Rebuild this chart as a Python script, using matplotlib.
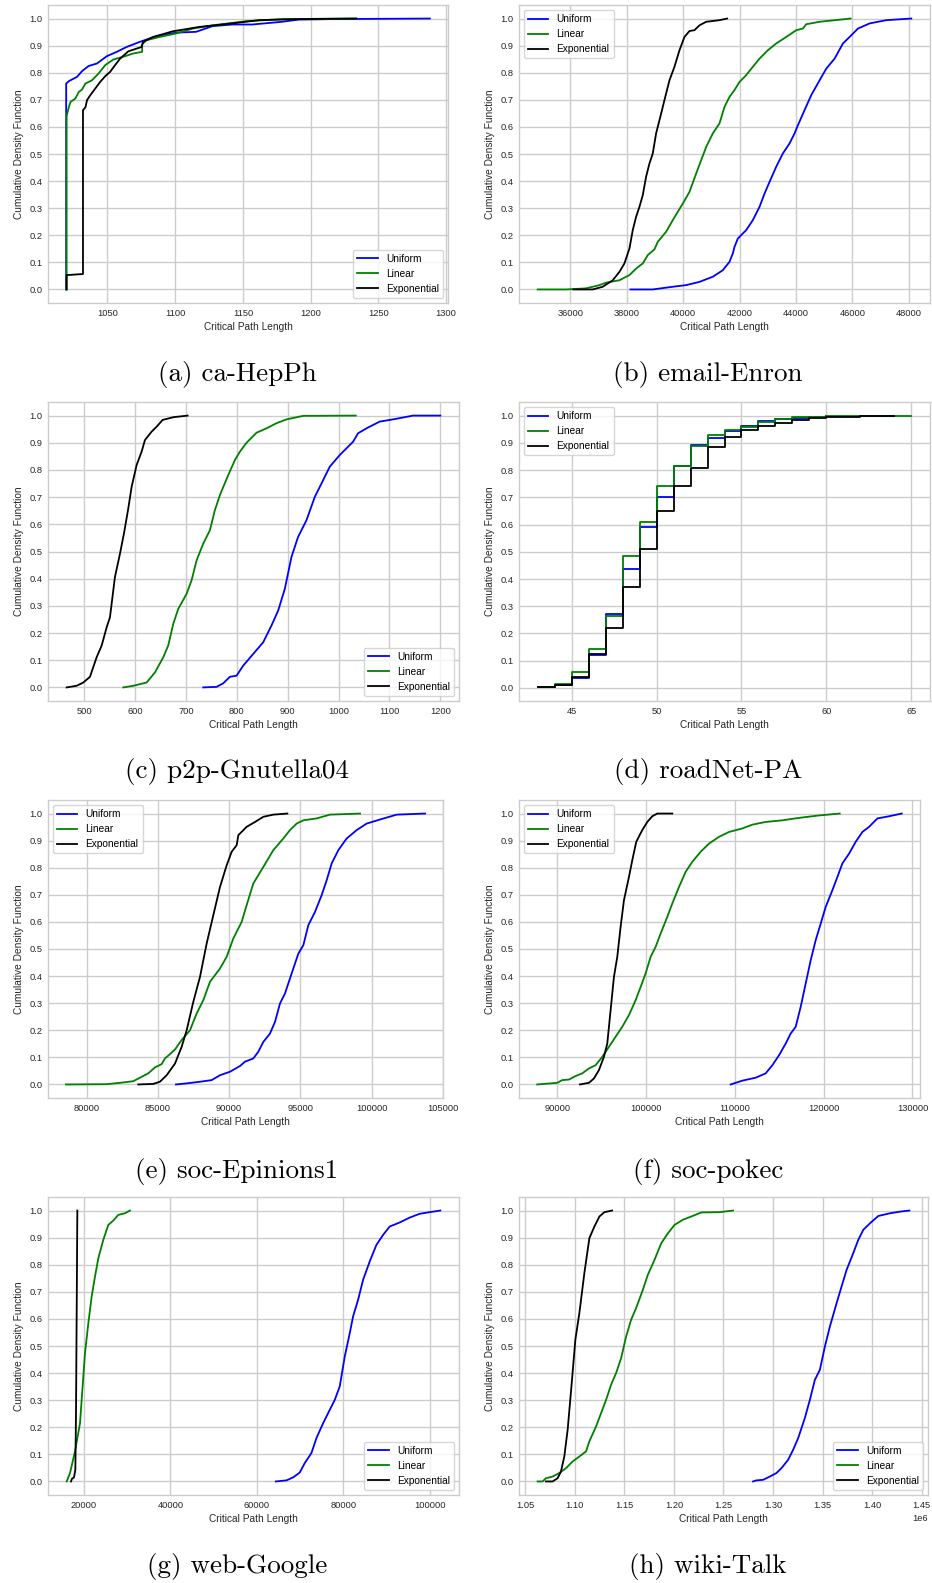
import numpy as np
import matplotlib
matplotlib.use("Agg")
import matplotlib.pyplot as plt
from matplotlib.ticker import MultipleLocator

# --- (a) ca-HepPh ---
hepph_uniform_x = [1019.5, 1019.5, 1021.5, 1027.6, 1031.2, 1036.1, 1042.2, 1049.5, 1056.8, 1064.1,
                   1073.9, 1086.1, 1100.7, 1115.4, 1127.6, 1142.2, 1156.8, 1178.8, 1191.0, 1215.4, 1288.0]
hepph_uniform_y = [0.0, 0.760, 0.769, 0.785, 0.806, 0.825, 0.834, 0.861, 0.877, 0.895,
                   0.914, 0.935, 0.948, 0.951, 0.972, 0.978, 0.978, 0.988, 0.996, 0.998, 1.0]
hepph_linear_x = [1019.8, 1019.8, 1021.5, 1022.7, 1026.3, 1028.8, 1031.2, 1033.7, 1038.5, 1043.4,
                  1048.3, 1054.4, 1061.7, 1069.0, 1075.6, 1075.6, 1078.8, 1088.5, 1100.7, 1112.9,
                  1127.6, 1152.0, 1178.8, 1233.7]
hepph_linear_y = [0.0, 0.640, 0.674, 0.692, 0.705, 0.729, 0.738, 0.760, 0.772, 0.797,
                  0.828, 0.849, 0.859, 0.871, 0.877, 0.905, 0.920, 0.932, 0.945, 0.963,
                  0.975, 0.990, 0.998, 1.0]
hepph_exp_x = [1019.8, 1019.8, 1031.9, 1031.9, 1033.7, 1034.9, 1037.3, 1041.0, 1044.6, 1048.3,
               1051.9, 1055.6, 1059.3, 1065.4, 1075.1, 1076.3, 1083.7, 1098.3, 1117.8, 1142.2,
               1161.7, 1191.0, 1233.7]
hepph_exp_y = [0.0, 0.053, 0.057, 0.662, 0.672, 0.699, 0.717, 0.742, 0.766, 0.787,
               0.803, 0.828, 0.852, 0.879, 0.895, 0.914, 0.932, 0.953, 0.969, 0.982,
               0.994, 0.998, 1.0]

# --- (b) email-Enron ---
enron_uniform_x = [38130, 38923, 39633, 40107, 40580, 41053, 41408, 41645, 41763, 41822,
                   41941, 42237, 42473, 42710, 42888, 43065, 43302, 43538, 43775, 43953,
                   44071, 44308, 44544, 44840, 45077, 45373, 45669, 45905, 46201, 46615,
                   47207, 48095]
enron_uniform_y = [0.0, 0.0, 0.010, 0.016, 0.028, 0.047, 0.071, 0.102, 0.133, 0.157,
                   0.188, 0.219, 0.256, 0.305, 0.354, 0.397, 0.453, 0.502, 0.539, 0.576,
                   0.606, 0.662, 0.717, 0.772, 0.815, 0.852, 0.908, 0.932, 0.963, 0.982,
                   0.994, 1.0]
enron_linear_x = [34840, 35846, 36556, 37030, 37266, 37740, 38095, 38331, 38568, 38746,
                  38982, 39101, 39396, 39633, 39988, 40225, 40462, 40639, 40817, 41053,
                  41290, 41467, 41645, 41822, 42000, 42237, 42473, 42710, 43006, 43302,
                  43657, 44012, 44249, 44367, 44840, 45941]
enron_linear_y = [0.0, 0.0, 0.004, 0.016, 0.025, 0.034, 0.053, 0.077, 0.096, 0.127,
                  0.148, 0.176, 0.213, 0.256, 0.317, 0.360, 0.428, 0.477, 0.526, 0.576,
                  0.613, 0.674, 0.711, 0.736, 0.766, 0.791, 0.822, 0.852, 0.883, 0.908,
                  0.932, 0.957, 0.963, 0.979, 0.988, 1.0]
enron_exp_x = [36106, 36793, 37148, 37503, 37740, 37917, 38095, 38213, 38331, 38450,
               38568, 38686, 38805, 38923, 39041, 39219, 39337, 39515, 39692, 39870,
               40047, 40225, 40402, 40580, 40817, 41290, 41562]
enron_exp_y = [0.0, 0.0, 0.010, 0.034, 0.065, 0.096, 0.151, 0.219, 0.268, 0.305,
               0.348, 0.416, 0.465, 0.502, 0.576, 0.649, 0.699, 0.772, 0.822, 0.883,
               0.932, 0.954, 0.957, 0.975, 0.988, 0.994, 1.0]

# --- (c) p2p-Gnutella04 ---
gnutella_uniform_x = [733.8, 760.0, 773.1, 786.2, 799.3, 812.4, 832.0, 851.7, 868.1, 881.2,
                      894.3, 907.3, 920.4, 936.8, 953.2, 966.3, 982.6, 1002.3, 1028.5, 1038.3,
                      1054.7, 1080.9, 1107.1, 1146.4, 1200.0]
gnutella_uniform_y = [0.0, 0.002, 0.015, 0.039, 0.043, 0.080, 0.123, 0.166, 0.228, 0.283,
                      0.363, 0.480, 0.554, 0.615, 0.701, 0.750, 0.812, 0.855, 0.904, 0.935,
                      0.953, 0.978, 0.986, 1.0, 1.0]
gnutella_linear_x = [576.6, 596.3, 622.5, 638.8, 655.2, 665.0, 674.9, 684.7, 701.0, 710.9,
                     720.7, 733.8, 746.9, 756.7, 766.5, 782.9, 796.0, 805.8, 818.9, 838.6,
                     858.2, 877.8, 897.5, 930.3, 1033.7]
gnutella_linear_y = [0.0, 0.006, 0.018, 0.055, 0.111, 0.154, 0.234, 0.289, 0.344, 0.394,
                     0.467, 0.529, 0.578, 0.652, 0.707, 0.781, 0.836, 0.867, 0.900, 0.937,
                     0.953, 0.972, 0.986, 0.999, 1.0]
gnutella_exp_x = [465.3, 484.9, 498.0, 511.1, 524.2, 534.1, 543.9, 550.4, 560.2, 570.1,
                  577.9, 586.4, 593.0, 602.8, 612.6, 619.2, 632.3, 642.1, 653.9, 674.9, 703.0]
gnutella_exp_y = [0.0, 0.006, 0.018, 0.039, 0.111, 0.154, 0.221, 0.258, 0.406, 0.492,
                  0.566, 0.658, 0.738, 0.818, 0.867, 0.910, 0.941, 0.959, 0.984, 0.994, 1.0]

# --- (d) roadNet-PA (integer path lengths, cumulative fraction per value) ---
road_uniform_x = list(range(43, 61))
road_uniform_y = [0.002, 0.010, 0.035, 0.120, 0.270, 0.435, 0.590, 0.700, 0.815, 0.892,
                  0.918, 0.945, 0.962, 0.981, 0.987, 0.991, 0.995, 1.0]
road_linear_x = list(range(43, 66))
road_linear_y = [0.002, 0.015, 0.060, 0.143, 0.266, 0.483, 0.608, 0.743, 0.816, 0.888,
                 0.928, 0.946, 0.958, 0.978, 0.988, 0.993, 0.995, 0.997, 0.998, 0.999,
                 0.999, 0.999, 1.0]
road_exp_x = list(range(43, 65))
road_exp_y = [0.002, 0.010, 0.039, 0.125, 0.219, 0.369, 0.512, 0.649, 0.740, 0.809,
              0.883, 0.921, 0.947, 0.962, 0.972, 0.985, 0.990, 0.994, 0.996, 0.998,
              0.999, 1.0]

# --- (e) soc-Epinions1 ---
epinions_uniform_x = [86269, 87018, 87953, 88772, 89357, 90058, 90760, 91111, 91696, 92047,
                      92398, 92865, 93216, 93567, 93918, 94386, 94854, 95205, 95556, 96023,
                      96491, 96842, 97193, 97661, 98246, 98947, 99649, 100585, 101754, 103743]
epinions_uniform_y = [0.0, 0.004, 0.010, 0.016, 0.034, 0.047, 0.068, 0.084, 0.096, 0.121,
                      0.157, 0.188, 0.231, 0.299, 0.336, 0.410, 0.483, 0.514, 0.588, 0.637,
                      0.699, 0.754, 0.816, 0.865, 0.908, 0.939, 0.963, 0.978, 0.996, 1.0]
epinions_linear_x = [78550, 81404, 82339, 83275, 83743, 84327, 84795, 85263, 85497, 85848,
                     86199, 86667, 87251, 87719, 88187, 88655, 89357, 89825, 90292, 90877,
                     91228, 91696, 92398, 93099, 93801, 94269, 94737, 95205, 96140, 97076, 99181]
epinions_linear_y = [0.0, 0.001, 0.006, 0.012, 0.025, 0.041, 0.063, 0.075, 0.096, 0.112,
                     0.129, 0.164, 0.200, 0.262, 0.311, 0.379, 0.428, 0.471, 0.539, 0.600,
                     0.662, 0.742, 0.803, 0.865, 0.908, 0.939, 0.963, 0.975, 0.982, 0.996, 1.0]
epinions_exp_x = [83626, 84678, 85146, 85614, 86199, 86667, 87018, 87485, 87953, 88421,
                  88889, 89357, 89825, 90175, 90526, 90643, 91228, 91813, 92398, 93099, 94082]
epinions_exp_y = [0.0, 0.002, 0.010, 0.034, 0.077, 0.139, 0.200, 0.305, 0.397, 0.520,
                  0.625, 0.729, 0.809, 0.859, 0.883, 0.920, 0.951, 0.969, 0.988, 0.996, 1.0]

# --- (f) soc-pokec ---
pokec_uniform_x = [109531, 110845, 112347, 113474, 114225, 114977, 115728, 116291, 116854, 117418,
                   117981, 118545, 119108, 119671, 120235, 120986, 121549, 122113, 122864, 123615,
                   124366, 125117, 126056, 127371, 128798]
pokec_uniform_y = [0.0, 0.014, 0.025, 0.041, 0.071, 0.108, 0.151, 0.188, 0.213, 0.287,
                   0.373, 0.459, 0.533, 0.594, 0.656, 0.717, 0.766, 0.816, 0.852, 0.896,
                   0.932, 0.951, 0.982, 0.990, 1.0]
pokec_linear_x = [87746, 90000, 90563, 91315, 92066, 92817, 93568, 94319, 95070, 95822,
                  96573, 97324, 98075, 98826, 99390, 99953, 100516, 101080, 101643, 102394,
                  102958, 103709, 104460, 105211, 106150, 107089, 108216, 109343, 110845, 111972,
                  113474, 115352, 117230, 119484, 121812]
pokec_linear_y = [0.0, 0.006, 0.016, 0.018, 0.031, 0.041, 0.059, 0.071, 0.102, 0.139,
                  0.176, 0.213, 0.256, 0.311, 0.360, 0.410, 0.471, 0.508, 0.557, 0.619,
                  0.668, 0.729, 0.785, 0.822, 0.859, 0.889, 0.914, 0.932, 0.945, 0.959,
                  0.969, 0.975, 0.984, 0.993, 1.0]
pokec_exp_x = [92554, 93568, 94131, 94695, 95258, 95634, 96009, 96385, 96761, 97136,
               97512, 98075, 98451, 98901, 99577, 100141, 100704, 101268, 102958]
pokec_exp_y = [0.0, 0.006, 0.022, 0.053, 0.102, 0.151, 0.274, 0.397, 0.471, 0.582,
               0.680, 0.766, 0.828, 0.896, 0.939, 0.969, 0.990, 1.0, 1.0]

# --- (g) web-Google ---
google_uniform_x = [64393, 66859, 68401, 69942, 71098, 72640, 73796, 75337, 76493, 78035,
                    79191, 80347, 81503, 82274, 83430, 84586, 86127, 87669, 89210, 90751,
                    93064, 95376, 97688, 100000, 102466]
google_uniform_y = [0.0, 0.004, 0.015, 0.033, 0.068, 0.105, 0.160, 0.215, 0.252, 0.301,
                    0.351, 0.461, 0.547, 0.609, 0.670, 0.744, 0.812, 0.873, 0.910, 0.941,
                    0.956, 0.974, 0.988, 0.994, 1.0]
google_linear_x = [15992, 16763, 17919, 19075, 20231, 21002, 21773, 22543, 23314, 24470,
                   25626, 26782, 27938, 29480, 30636]
google_linear_y = [0.0, 0.031, 0.111, 0.215, 0.474, 0.584, 0.683, 0.756, 0.824, 0.892,
                   0.947, 0.963, 0.984, 0.990, 1.0]
google_exp_x = [16994, 17225, 17688, 17996, 18150, 18304, 18459]
google_exp_y = [0.0, 0.010, 0.015, 0.043, 0.252, 0.621, 1.0]

# --- (h) wiki-Talk ---
wiki_uniform_x = [1279823, 1283192, 1289932, 1296672, 1303411, 1308466, 1315206, 1320261, 1325316, 1332055,
                  1337110, 1342165, 1347220, 1352275, 1357329, 1364069, 1369124, 1374179, 1380918, 1385973,
                  1391028, 1397768, 1406192, 1417987, 1428097, 1437533]
wiki_uniform_y = [0.0, 0.004, 0.006, 0.018, 0.031, 0.049, 0.080, 0.117, 0.160, 0.234,
                  0.301, 0.375, 0.412, 0.498, 0.572, 0.658, 0.720, 0.781, 0.843, 0.892,
                  0.929, 0.953, 0.980, 0.990, 0.996, 1.0]
wiki_linear_x = [1062468, 1067523, 1070893, 1077633, 1084372, 1091112, 1097852, 1104592, 1111331, 1114701,
                 1121440, 1126495, 1131550, 1136605, 1141660, 1146714, 1151769, 1156824, 1161879, 1168618,
                 1173673, 1180413, 1187153, 1193892, 1200632, 1209056, 1217481, 1227591, 1246124, 1259604]
wiki_linear_y = [0.0, 0.0, 0.012, 0.018, 0.031, 0.049, 0.074, 0.092, 0.111, 0.148,
                 0.203, 0.252, 0.301, 0.357, 0.400, 0.455, 0.535, 0.597, 0.640, 0.707,
                 0.763, 0.818, 0.879, 0.916, 0.947, 0.966, 0.978, 0.993, 0.994, 1.0]
wiki_exp_x = [1070893, 1077633, 1082688, 1086057, 1089427, 1092797, 1097178, 1100548, 1104592, 1109646,
              1114701, 1119756, 1124810, 1129865, 1137616]
wiki_exp_y = [0.0, 0.0, 0.012, 0.037, 0.092, 0.191, 0.375, 0.523, 0.621, 0.769,
              0.898, 0.941, 0.978, 0.994, 1.0]

captions = ["(a) ca-HepPh", "(b) email-Enron", "(c) p2p-Gnutella04", "(d) roadNet-PA",
            "(e) soc-Epinions1", "(f) soc-pokec", "(g) web-Google", "(h) wiki-Talk"]
series_names = ["Uniform", "Linear", "Exponential"]
series_colors = ["blue", "green", "black"]

panels = [
    (hepph_uniform_x, hepph_uniform_y, hepph_linear_x, hepph_linear_y, hepph_exp_x, hepph_exp_y),
    (enron_uniform_x, enron_uniform_y, enron_linear_x, enron_linear_y, enron_exp_x, enron_exp_y),
    (gnutella_uniform_x, gnutella_uniform_y, gnutella_linear_x, gnutella_linear_y, gnutella_exp_x, gnutella_exp_y),
    (road_uniform_x, road_uniform_y, road_linear_x, road_linear_y, road_exp_x, road_exp_y),
    (epinions_uniform_x, epinions_uniform_y, epinions_linear_x, epinions_linear_y, epinions_exp_x, epinions_exp_y),
    (pokec_uniform_x, pokec_uniform_y, pokec_linear_x, pokec_linear_y, pokec_exp_x, pokec_exp_y),
    (google_uniform_x, google_uniform_y, google_linear_x, google_linear_y, google_exp_x, google_exp_y),
    (wiki_uniform_x, wiki_uniform_y, wiki_linear_x, wiki_linear_y, wiki_exp_x, wiki_exp_y),
]

# per panel: axes box in pixels (left, right, top, bottom), x tick step, legend corner
boxes = [(48, 448, 5, 303), (519, 930, 5, 303),
         (48, 459, 402, 701), (519, 930, 402, 701),
         (48, 443, 800, 1098), (519, 920, 800, 1098),
         (48, 459, 1197, 1495), (519, 928, 1197, 1495)]
xsteps = [50, 2000, 100, 5, 5000, 10000, 20000, 50000]
legend_locs = ["lower right", "upper left", "lower right", "upper left",
               "upper left", "upper left", "lower right", "lower right"]
caption_pos = [(237, 381), (708, 381), (237, 778), (708, 778),
               (237, 1178), (708, 1178), (237, 1573), (708, 1573)]

W, H = 932, 1583
plt.rcParams.update({
    "font.family": ["Liberation Sans", "DejaVu Sans"],
    "axes.edgecolor": "0.8",
    "axes.linewidth": 1.0,
    "axes.labelcolor": "0.15",
    "xtick.color": "0.15",
    "ytick.color": "0.15",
    "xtick.major.size": 0,
    "ytick.major.size": 0,
    "grid.color": "0.8",
    "grid.linewidth": 1.0,
})

fig = plt.figure(figsize=(W / 100, H / 100), dpi=100)

for i, data in enumerate(panels):
    l, r, t, b = boxes[i]
    ax = fig.add_axes([l / W, 1 - b / H, (r - l) / W, (b - t) / H])
    ax.grid(True)
    ax.set_axisbelow(True)
    for k in range(3):
        xs, ys = data[2 * k], data[2 * k + 1]
        if i == 3:
            ax.step(xs, ys, where="post", color=series_colors[k], lw=1.3, label=series_names[k])
        else:
            ax.plot(xs, ys, color=series_colors[k], lw=1.3, label=series_names[k])
    ax.xaxis.set_major_locator(MultipleLocator(xsteps[i]))
    ax.yaxis.set_major_locator(MultipleLocator(0.1))
    ax.tick_params(labelsize=6.7, pad=4)
    ax.xaxis.get_offset_text().set_fontsize(6.7)
    ax.set_xlabel("Critical Path Length", fontsize=7.3, labelpad=3)
    ax.set_ylabel("Cumulative Density Function", fontsize=7.3)
    ax.legend(loc=legend_locs[i], fontsize=7.3, frameon=True, edgecolor="0.8",
              facecolor="white", framealpha=0.8)
    cx, cy = caption_pos[i]
    fig.text(cx / W, 1 - cy / H, captions[i], family="cmr10", fontsize=19.5,
             ha="center", va="baseline", color="black")

fig.savefig("out.png", dpi=100, facecolor="white")
